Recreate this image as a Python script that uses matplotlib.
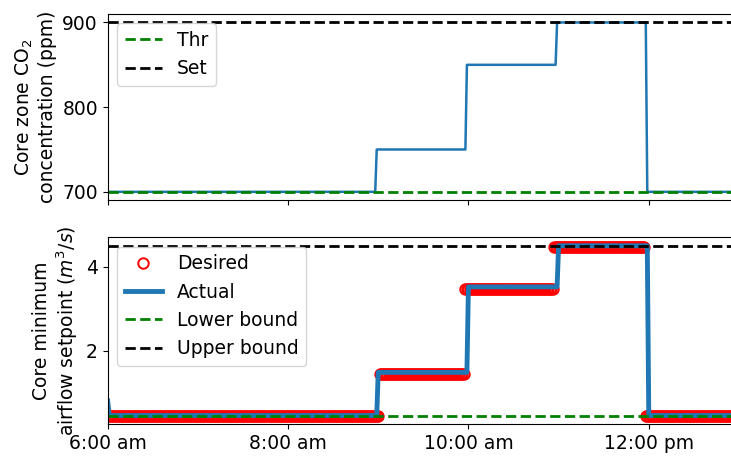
import numpy as np
import matplotlib
matplotlib.use('Agg')
import matplotlib.pyplot as plt

plt.rcParams['font.size'] = 13.5

# one sample per minute, 6:00 am to 1:00 pm
t_start, t_end = 6.0, 13.0

# step levels: (start minute after 6:00, value)
co2_steps = [(0, 700), (179, 750), (239, 850), (299, 900), (359, 700)]
desired_steps = [(0, 0.45), (181, 1.43), (238, 3.47), (297, 4.48), (358, 0.45)]
actual_steps = [(0, 0.80), (1, 0.45), (180, 1.48), (240, 3.52), (300, 4.50), (360, 0.45)]

co2_thr = 700
co2_set = 900
lower_bound = 0.45
upper_bound = 4.5

tick_hours = [6, 8, 10, 12]
tick_labels = ['6:00 am', '8:00 am', '10:00 am', '12:00 pm']

n_min = int((t_end - t_start) * 60)
t = t_start + np.arange(n_min + 1) / 60.0


def expand(steps):
    starts = [s for s, _ in steps] + [n_min + 1]
    vals = [v for _, v in steps]
    return np.repeat(vals, np.diff(starts))


co2 = expand(co2_steps)
desired = expand(desired_steps)
actual = expand(actual_steps)

fig = plt.figure(figsize=(7.31, 4.58), dpi=100)
ax1 = fig.add_axes([0.1473, 0.5627, 0.8636, 0.4067])
ax2 = fig.add_axes([0.1473, 0.0742, 0.8636, 0.4077], sharex=ax1)

ax1.plot(t, co2, color='tab:blue', lw=1.8)
ax1.axhline(co2_thr, color='green', ls='--', lw=2, label='Thr')
ax1.axhline(co2_set, color='black', ls='--', lw=2, label='Set')
ax1.set_ylabel('Core zone CO$_2$\nconcentration (ppm)')
ax1.set_yticks([700, 800, 900])
ax1.legend(loc='upper left')
plt.setp(ax1.get_xticklabels(), visible=False)

ax2.plot(t, desired, 'o', mfc='none', mec='red', ms=7.5, mew=1.4, label='Desired')
ax2.plot(t, actual, color='tab:blue', lw=3.5, label='Actual')
ax2.axhline(lower_bound, color='green', ls='--', lw=2, label='Lower bound')
ax2.axhline(upper_bound, color='black', ls='--', lw=2, label='Upper bound')
ax2.set_ylabel('Core minimum\nairflow setpoint ($m^3/s$)')
ax2.set_yticks([2, 4])
ax2.legend(loc='upper left')

ax2.set_xlim(t_start, t_end)
ax2.set_xticks(tick_hours)
ax2.set_xticklabels(tick_labels)

fig.savefig('out.png', dpi=100)
